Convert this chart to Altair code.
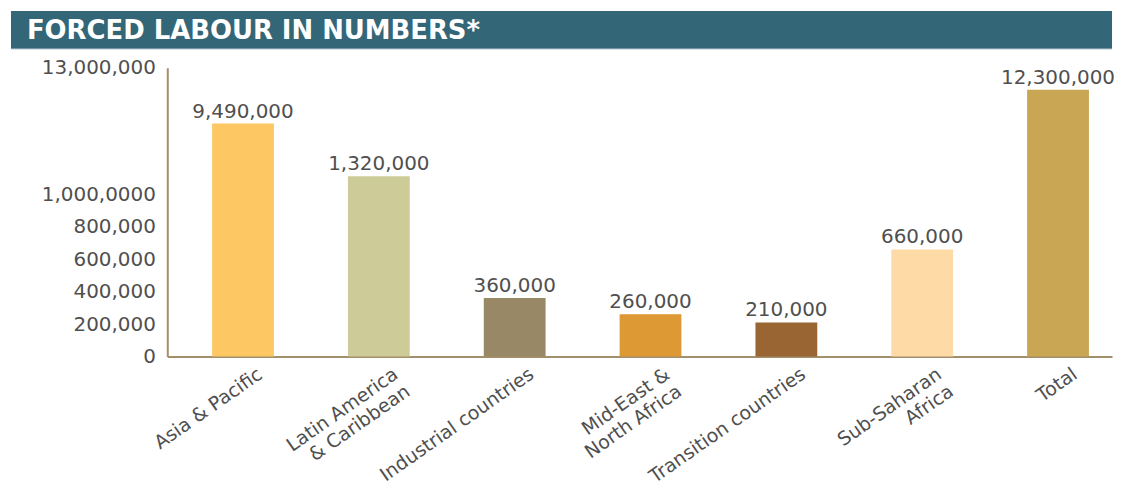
import altair as alt
import pandas as pd

# ---- data ----
categories = [
    "Asia & Pacific",
    "Latin America\n& Caribbean",
    "Industrial countries",
    "Mid-East &\nNorth Africa",
    "Transition countries",
    "Sub-Saharan\nAfrica",
    "Total",
]
values = [9490000, 1320000, 360000, 260000, 210000, 660000, 12300000]
bar_colors = ["#FDC763", "#CDCC98", "#998866", "#DD9933", "#996633", "#FEDBA6", "#C9A653"]
tick_values = [0, 200000, 400000, 600000, 800000, 1000000, 13000000]
tick_labels = ["0", "200,000", "400,000", "600,000", "800,000", "1,000,0000", "13,000,000"]
title_text = "FORCED LABOUR IN NUMBERS*"

# broken (piecewise) value axis of the original graphic
scale_breaks = [0, 1000000, 1320000, 9490000, 12300000, 13000000]
scale_pixels = [295, 132, 114, 61, 27, 5]

W, H = 949, 295
FONT = "DejaVu Sans"
TEXT = "#4f4f4f"
AXIS = "#A38F6B"

df = pd.DataFrame({"category": categories, "value": values})
df["label"] = df["value"].map(lambda v: f"{v:,}")

label_expr = (
    "[" + ",".join(f"'{t}'" for t in tick_labels) + "]"
    + "[indexof([" + ",".join(str(v) for v in tick_values) + "], datum.value)]"
)

x_enc = alt.X(
    "category:N",
    sort=categories,
    scale=alt.Scale(paddingInner=0.545, paddingOuter=0.25, align=0.66),
    axis=alt.Axis(
        title=None,
        labelExpr="split(datum.label, '\\n')",
        labelAngle=-35,
        labelAlign="right",
        labelBaseline="top",
        labelFont=FONT,
        labelFontSize=19,
        labelColor=TEXT,
        labelLineHeight=21,
        labelPadding=8,
        labelOffset=12,
        labelLimit=400,
        labelOverlap=False,
        ticks=False,
        domainColor=AXIS,
        domainWidth=2,
        grid=False,
    ),
)
y_scale = alt.Scale(domain=scale_breaks, range=scale_pixels, nice=False, zero=False)
y_enc = alt.Y(
    "value:Q",
    scale=y_scale,
    axis=alt.Axis(
        title=None,
        values=tick_values,
        labelExpr=label_expr,
        labelFont=FONT,
        labelFontSize=20,
        labelColor=TEXT,
        labelPadding=12,
        ticks=False,
        domainColor=AXIS,
        domainWidth=2,
        grid=False,
    ),
)

bars = alt.Chart(df).mark_bar().encode(
    x=x_enc,
    y=y_enc,
    color=alt.Color("category:N", sort=categories,
                    scale=alt.Scale(domain=categories, range=bar_colors), legend=None),
)
value_text = alt.Chart(df).mark_text(
    font=FONT, fontSize=20, color=TEXT, baseline="alphabetic", dy=-6
).encode(
    x=alt.X("category:N", sort=categories),
    y=alt.Y("value:Q", scale=y_scale),
    text="label:N",
)

title_df = pd.DataFrame({"t": [title_text]})
title_bar = alt.Chart(title_df).mark_rect(color="#336677").encode(
    x=alt.value(-157), x2=alt.value(W), y=alt.value(-52), y2=alt.value(-14)
)
title_line = alt.Chart(title_df).mark_rule(color="#9FB7C0", strokeWidth=1).encode(
    x=alt.value(-157), x2=alt.value(W), y=alt.value(-14)
)
title_txt = alt.Chart(title_df).mark_text(
    font=FONT, fontSize=26, fontWeight="bold", color="white", align="left", baseline="middle"
).encode(x=alt.value(-141), y=alt.value(-32), text="t:N")

chart = (
    alt.layer(title_bar, title_line, title_txt, bars, value_text)
    .properties(width=W, height=H, padding={"left": 2, "top": 2, "right": 0, "bottom": 0})
    .configure(background="white")
    .configure_view(strokeWidth=0, stroke="transparent")
)

chart.save("out.html", embed_options={"renderer": "svg", "actions": False})
